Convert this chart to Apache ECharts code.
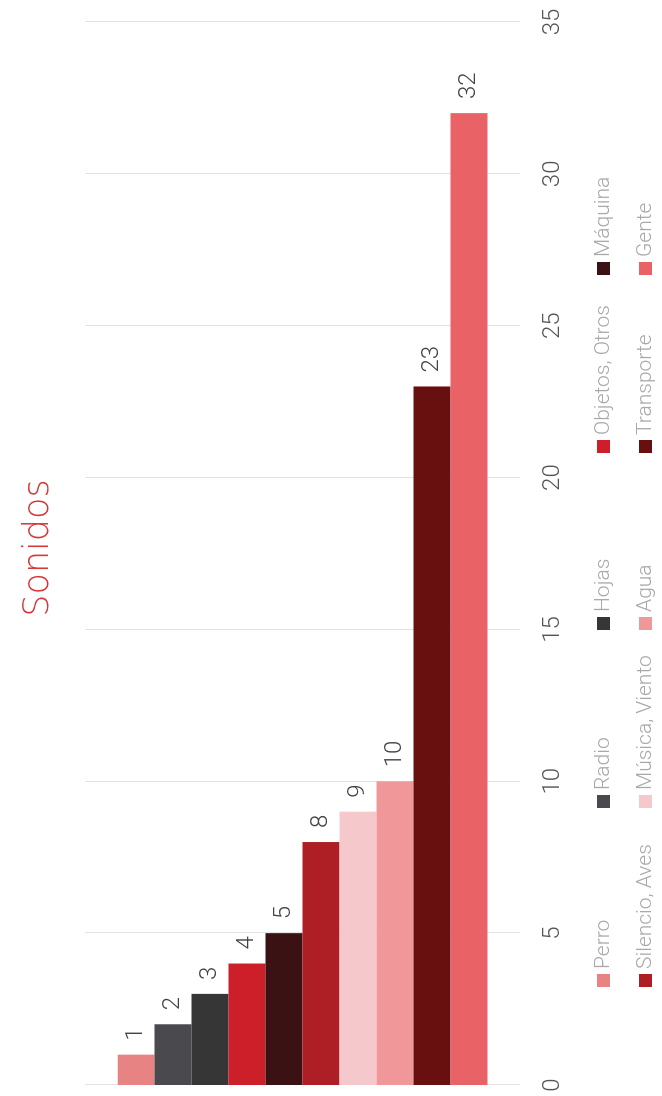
<!DOCTYPE html>
<html>
<head>
<meta charset="utf-8">
<script src="https://cdn.jsdelivr.net/npm/echarts@6/dist/echarts.min.js"></script>
<style>
html,body{margin:0;padding:0;background:#fff;overflow:hidden;width:662px;height:1096px;}
#chart{position:absolute;left:0;top:0;width:1096px;height:662px;transform-origin:0 0;transform:translateY(1096px) rotate(-90deg);}
</style>
</head>
<body>
<div id="chart"></div>
<script>
const titleText = 'Sonidos';
const categories = ['Perro', 'Radio', 'Hojas', 'Objetos, Otros', 'Máquina', 'Silencio, Aves', 'Música, Viento', 'Agua', 'Transporte', 'Gente'];
const values = [1, 2, 3, 4, 5, 8, 9, 10, 23, 32];
const axisMin = 0, axisMax = 35, axisStep = 5;

const palette = ['#e88384', '#4a4a4e', '#363636', '#cd1f2a', '#3a1213', '#ad1f24', '#f5c9cb', '#f09899', '#680f10', '#e96366'];
const FONT = 'Roboto';

const chart = echarts.init(document.getElementById('chart'), null, {renderer: 'canvas'});

const series = categories.map((name, i) => ({
  type: 'bar',
  name: name,
  data: [values[i]],
  barGap: '0%',
  barCategoryGap: '15%',
  itemStyle: {color: palette[i]},
  label: {
    show: true,
    position: 'right',
    distance: 14,
    color: '#444',
    fontFamily: FONT,
    fontWeight: 300,
    fontSize: 24
  }
}));

const colLeft = [109, 288, 466, 643, 821];
const legends = colLeft.map((x, c) => ({
  orient: 'vertical',
  left: x,
  top: 593,
  padding: 0,
  itemWidth: 13,
  itemHeight: 13,
  itemGap: 21,
  icon: 'rect',
  selectedMode: false,
  data: [categories[c], categories[c + 5]],
  textStyle: {color: '#a8a8a8', fontFamily: FONT, fontWeight: 300, fontSize: 21}
}));

chart.setOption({
  animation: false,
  backgroundColor: '#fff',
  title: {
    text: titleText,
    left: 'center',
    top: 21,
    padding: 0,
    textStyle: {color: '#d7373b', fontFamily: 'DejaVu Sans', fontWeight: 200, fontSize: 35}
  },
  legend: legends,
  grid: {left: 11, right: 22, top: 85, bottom: 142, containLabel: false},
  xAxis: {
    type: 'value',
    min: axisMin,
    max: axisMax,
    interval: axisStep,
    axisLine: {show: false},
    axisTick: {show: false},
    splitLine: {lineStyle: {color: '#e2e2e2', width: 1}},
    axisLabel: {color: '#555', fontFamily: FONT, fontWeight: 300, fontSize: 24, margin: 21}
  },
  yAxis: {
    type: 'category',
    data: [titleText],
    inverse: true,
    axisLine: {show: false},
    axisTick: {show: false},
    axisLabel: {show: false}
  },
  series: series
});
</script>
</body>
</html>
